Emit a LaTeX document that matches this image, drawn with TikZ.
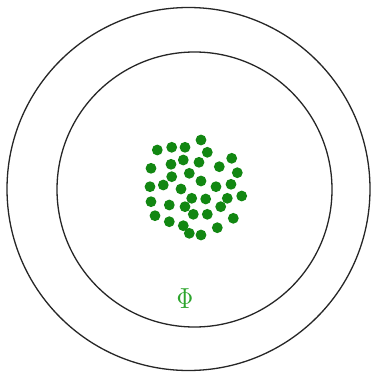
\documentclass[tikz,border=0pt]{standalone}
\begin{document}
\begin{tikzpicture}[x=1pt,y=-1pt,
  ring/.style={draw=black!85,line width=1.3pt},
  dot/.style={fill=dotgreen},
  lbl/.style={text=phigreen,inner sep=0pt}]
\definecolor{dotgreen}{RGB}{18,135,18}
\definecolor{phigreen}{RGB}{45,165,45}
\useasboundingbox (0,0) rectangle (373,377);
\fill[white] (0,0) rectangle (373,377);
\draw[ring] (188.5,189) circle[radius=181.5];
\draw[ring] (194.5,189.5) circle[radius=137.5];
\foreach \x/\y in {201/140,157.3/150,171.7/147.3,185/147.3,207.3/152.3,
  231.7/158.3,183.3/160,171/164.3,199/162.3,151/168.3,219.3/166.7,
  189.3/173.3,237.3/172.7,171.7/176.7,201/181,163.3/185,150/186.7,
  181/189,216/186.7,231/184.3,191.7/198.3,205.7/199,227.3/198.3,
  241.7/196,151/201.7,169.3/205,185/206.7,220.7/206.7,155/215.7,
  193.3/214.3,207.3/214.3,233.3/218.3,169.3/221.7,183.3/225.7,
  217.3/227.7,189.3/233.3,201/235}
  \fill[dot] (\x,\y) circle[radius=5.4];
\node[lbl] (phi) at (185,299) {\scalebox{2.3}[2.9]{$\Phi$}};
\end{tikzpicture}
\end{document}
